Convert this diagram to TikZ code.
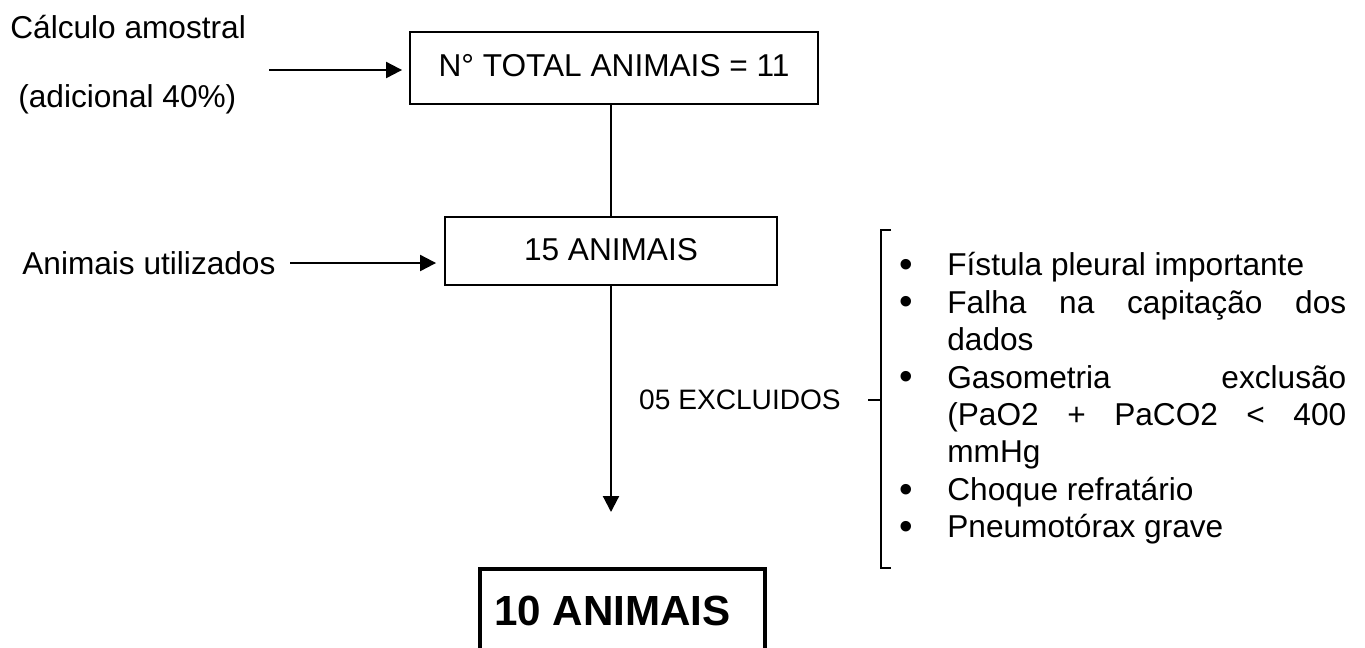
\documentclass[tikz,border=0pt]{standalone}
\usepackage{fontspec}
\setmainfont{Liberation Sans}
\usetikzlibrary{arrows.meta}

\begin{document}
\begin{tikzpicture}[x=0.02cm,y=-0.02cm,
  box/.style={draw,line width=1.1pt,inner sep=0pt,font=\fontsize{18pt}{21pt}\selectfont},
  lbl/.style={inner sep=0pt,font=\fontsize{18pt}{21pt}\selectfont},
  arr/.style={line width=1.2pt,-{Triangle[length=0.32cm,width=0.32cm]}}]
  \useasboundingbox (0,0) rectangle (1365,647);
  \node[box,minimum width=8.16cm,minimum height=1.44cm] (total) at (614,68) {\raisebox{3.4pt}{N° TOTAL ANIMAIS = 11}};
  \node[box,minimum width=6.64cm,minimum height=1.36cm] (used) at (611,251) {\raisebox{1.7pt}{15 ANIMAIS}};
  \node[draw,line width=2pt,inner sep=0pt,minimum width=5.7cm,minimum height=1.8cm,
        font=\bfseries\fontsize{24pt}{28pt}\selectfont] (final) at (622.5,614) {\hspace*{-0.4cm}\raisebox{4pt}{10 ANIMAIS}};
  \node[lbl,anchor=west] (calc) at (10,27) {Cálculo amostral};
  \node[lbl,anchor=west] (adic) at (18,99) {(adicional 40\%)};
  \node[lbl,anchor=west] (util) at (22,263) {Animais utilizados};
  \node[inner sep=0pt,font=\fontsize{16pt}{19pt}\selectfont] (nexc) at (740,400) {05 EXCLUIDOS};
  \coordinate (a1) at (269,70);
  \coordinate (a2) at (290,263);
  \coordinate (endp) at (611,512);
  \draw[arr,shorten >=0.14cm] (a1) -- (total.west |- a1);
  \draw[arr,shorten >=0.16cm] (a2) -- (used.west |- a2);
  \draw[line width=1.2pt] (total.south -| used.north) -- (used.north);
  \draw[arr] (used.south) -- (endp);
  \coordinate (brtop) at (881,230);
  \coordinate (brbot) at (881,568);
  \coordinate (brmid) at (881,400);
  \draw[line width=1.2pt] ([xshift=0.2cm]brtop) -- (brtop) -- (brbot) -- ([xshift=0.2cm]brbot);
  \draw[line width=1.2pt] ([xshift=-0.26cm]brmid) -- (brmid);
  \node[anchor=north west,inner sep=0pt,text width=8.98cm,align=justify,
        font=\fontsize{18pt}{21.3pt}\selectfont] (crit) at (897,238) {%
    \begin{list}{\smash{\raisebox{-1pt}{\fontsize{22pt}{22pt}\selectfont\textbullet}}}{\setlength{\leftmargin}{1cm}\setlength{\labelwidth}{0.3cm}%
      \setlength{\labelsep}{0.68cm}\setlength{\itemsep}{0pt}\setlength{\parsep}{0pt}%
      \setlength{\topsep}{0pt}\setlength{\partopsep}{0pt}}
    \item Fístula pleural importante
    \item Falha na capitação dos\linebreak dados
    \item Gasometria exclusão\linebreak (PaO2 + PaCO2 < 400\linebreak mmHg
    \item Choque refratário
    \item Pneumotórax grave
    \end{list}};
\end{tikzpicture}
\end{document}
